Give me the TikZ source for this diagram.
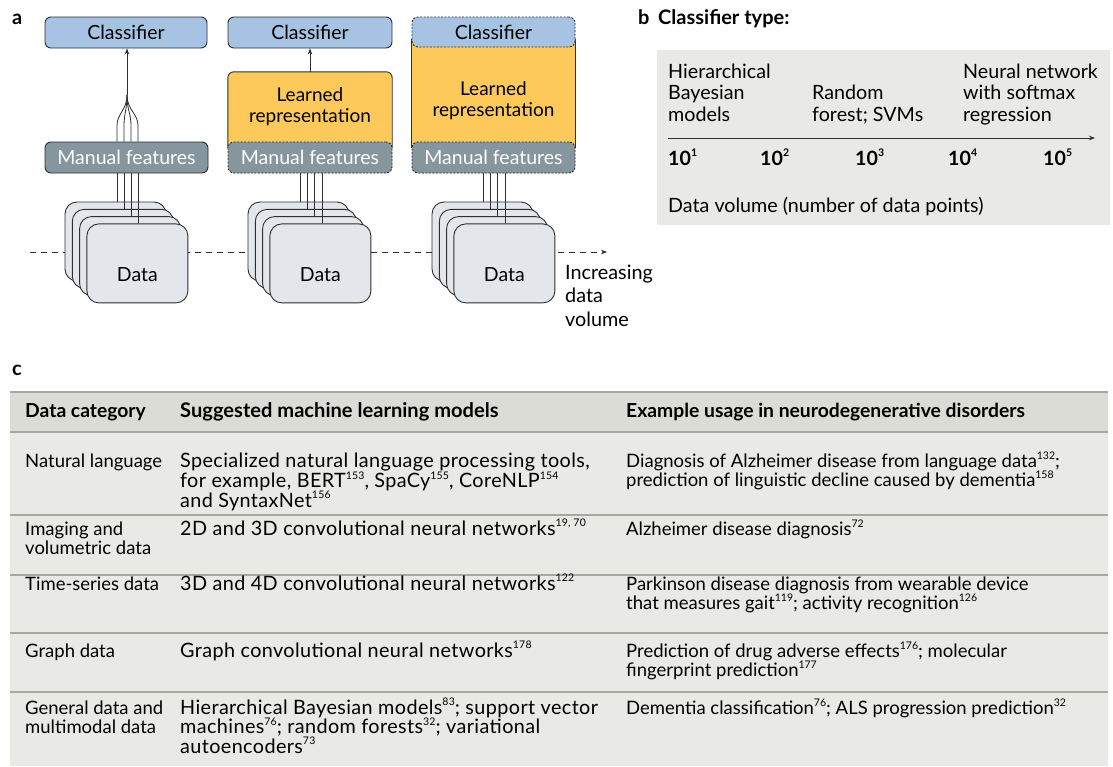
\documentclass[tikz,border=0pt]{standalone}
\usepackage{fontspec}
\setmainfont{Lato}
\usetikzlibrary{arrows.meta}
\definecolor{clsblue}{HTML}{A7C3E3}
\definecolor{mfgray}{HTML}{86969F}
\definecolor{lryellow}{HTML}{FDC95B}
\definecolor{datafill}{HTML}{E3E7EB}
\definecolor{panelgray}{HTML}{E9E9E5}
\definecolor{headgray}{HTML}{DCDCD6}
\definecolor{rulegray}{HTML}{A8A8A2}
\definecolor{edge}{HTML}{2E2E2E}
\newcommand\sps[1]{\raisebox{0.42em}{\fontsize{10.5}{10.5}\selectfont #1}}
\newcommand\fl{\rule{0pt}{16pt}}
\newcommand\tabfont{\fontsize{18.5}{19.5}\selectfont}
\newcommand\tabfontb{\fontsize{19.8}{19.5}\selectfont\addfontfeature{LetterSpace=2}}
\newcommand\boxfont{\fontsize{19.5}{21}\selectfont}
\newcommand\lrfont{\fontsize{19}{21}\selectfont}
\newcommand\pbfont{\fontsize{19.7}{21.5}\selectfont}
\begin{document}
\begin{tikzpicture}[x=1pt,y=-1pt,
  box/.style={draw=edge, line width=0.9pt, rounded corners=6pt, inner sep=0pt, font=\boxfont},
  clsbox/.style={box, fill=clsblue, text=black},
  mfbox/.style={box, fill=mfgray, text=white},
  dotbox/.style={dash pattern=on 2pt off 1.5pt},
  card/.style={draw=edge, line width=0.9pt, rounded corners=12pt, fill=datafill, minimum width=101pt, minimum height=79pt, inner sep=0pt},
  link/.style={draw=edge, line width=0.8pt},
  arr/.style={link, -{Stealth[length=6pt,width=4.5pt]}},
  lbl/.style={anchor=base west, inner sep=0pt, font=\fontsize{20}{22}\selectfont\bfseries},
  cell/.style={anchor=north west, inner sep=0pt, align=left, font=\tabfont},
  cellb/.style={cell, font=\tabfontb},
  pbtext/.style={anchor=north west, inner sep=0pt, align=left, font=\pbfont},
  rule/.style={draw=rulegray, line width=1.2pt}
]
\fill[white] (0,0) rectangle (1113,766);
\useasboundingbox (0,0) rectangle (1113,766);

% ---------- panel a ----------
\node[lbl] (la) at (12,24) {a};
\coordinate (axs) at (30,252);
\coordinate (axe) at (607,252);
\draw[link, dash pattern=on 6pt off 5pt, -{Stealth[length=6pt,width=4.5pt]}] (axs) -- (axe);

\foreach \s/\L in {1/65,2/248,3/432}{
  \foreach \i in {0,...,3}{
    \node[card] (c\s\i) at ({\L+50.5+7.3*\i},{241.5+7.3*\i}) {};
  }
  \node[font=\boxfont, inner sep=0pt] (d\s) at ([yshift=-11pt]c\s3.center) {Data};
}

% stack 1
\node[clsbox, minimum width=162pt, minimum height=31pt] (cls1) at (126,32.5) {Classifier};
\node[mfbox, minimum width=163pt, minimum height=31pt] (mf1) at (126.5,157.5) {Manual features};
\coordinate (m1) at (127,95);
\foreach \i in {0,...,3}{
  \coordinate (p1\i) at ({117+7*\i},0);
  \draw[link] (mf1.south -| p1\i) -- (c1\i.north -| p1\i);
  \draw[link] (mf1.north -| p1\i) -- ++(0,-16) .. controls +(0,-12) and (127,110) .. (m1);
}
\draw[arr] (m1) -- (cls1.south -| m1);

% stack 2
\node[fill=lryellow, rounded corners=6pt, minimum width=164pt, minimum height=101pt, inner sep=0pt] (lr2) at (310,122.5) {};
\draw[link, line width=0.9pt, rounded corners=6pt] ([yshift=25pt]lr2.south west) |- (lr2.north) -| ([yshift=25pt]lr2.south east);
\node[font=\lrfont, align=center, inner sep=0pt] (lt2) at (310,107) {Learned\\representation};
\node[mfbox, dotbox, minimum width=164pt, minimum height=31pt] (mf2) at (310,157.5) {Manual features};
\node[clsbox, minimum width=164pt, minimum height=31pt] (cls2) at (310,32.5) {Classifier};
\draw[arr] (lr2.north) -- (cls2.south);
\foreach \i in {0,...,3}{
  \coordinate (p2\i) at ({300+7.3*\i},0);
  \draw[link] (mf2.south -| p2\i) -- (c2\i.north -| p2\i);
}

% stack 3
\node[fill=lryellow, rounded corners=6pt, minimum width=163pt, minimum height=156pt, inner sep=0pt] (lr3) at (493.5,95) {};
\draw[link, line width=0.9pt] ([yshift=-22pt]lr3.north west) -- ([yshift=25pt]lr3.south west);
\draw[link, line width=0.9pt] ([yshift=-22pt]lr3.north east) -- ([yshift=25pt]lr3.south east);
\node[clsbox, dotbox, minimum width=163pt, minimum height=30pt] (cls3) at (493.5,32) {Classifier};
\node[font=\lrfont, align=center, inner sep=0pt] (lt3) at (493.5,101) {Learned\\representation};
\node[mfbox, dotbox, minimum width=163pt, minimum height=31pt] (mf3) at (493.5,157.5) {Manual features};
\foreach \i in {0,...,3}{
  \coordinate (p3\i) at ({483+7.3*\i},0);
  \draw[link] (mf3.south -| p3\i) -- (c3\i.north -| p3\i);
}
\node[anchor=north west, inner sep=0pt, align=left, font=\fontsize{19.8}{23.5}\selectfont] (inc) at (565,263) {\fl Increasing\\data\\volume};

% ---------- panel b ----------
\node[lbl] (lb) at (638,24) {b};
\node[lbl] (ctype) at (658,24) {Classifier type:};
\node[fill=panelgray, anchor=north west, minimum width=453pt, minimum height=175pt, inner sep=0pt] (pb) at (657,50) {};
\node[pbtext] (hb) at (668,62) {\fl Hierarchical\\Bayesian\\models};
\node[pbtext] (rf) at (812,83.5) {\fl Random\\forest; SVMs};
\node[pbtext] (nn) at (963,62) {\fl Neural network\\with softmax\\regression};
\coordinate (ba1) at (668,138);
\coordinate (ba2) at (1095,138);
\draw[arr] (ba1) -- (ba2);
\foreach \x/\e in {668/1,760/2,855/3,948/4,1043/5}{
  \node[anchor=base west, inner sep=0pt, font=\pbfont\bfseries] (t\e) at (\x,165) {10\sps{\e}};
}
\node[anchor=base west, inner sep=0pt, font=\pbfont] (dv) at (668,212) {Data volume (number of data points)};

% ---------- panel c ----------
\node[lbl] (lc) at (12,375) {c};
\node[fill=headgray, anchor=north west, minimum width=1098pt, minimum height=40pt, inner sep=0pt] (thd) at (10,392) {};
\node[fill=panelgray, anchor=north west, minimum width=1098pt, minimum height=334pt, inner sep=0pt] (tbd) at (10,432) {};
\foreach \y in {392,432,515,575,633,692}{
  \coordinate (rl\y) at (10,\y);
  \coordinate (rr\y) at (1108,\y);
  \draw[rule] (rl\y) -- (rr\y);
}
% header
\node[cell, font=\fontsize{19.3}{19.5}\selectfont\bfseries] (h1) at (25,401) {\fl Data category};
\node[cell, font=\fontsize{20.1}{19.5}\selectfont\bfseries] (h2) at (180,401) {\fl Suggested machine learning models};
\node[cell, font=\fontsize{19.3}{19.5}\selectfont\bfseries] (h3) at (626,401) {\fl Example usage in neurodegenerative disorders};
% row 1
\node[cell] (a1) at (25,451) {\fl Natural language};
\node[cellb] (b1) at (180,451) {\fl Specialized natural language processing tools,\\for example, BERT\sps{153}, SpaCy\sps{155}, CoreNLP\sps{154}\\and SyntaxNet\sps{156}};
\node[cell] (e1) at (626,451) {\fl Diagnosis of Alzheimer disease from language data\sps{132};\\prediction of linguistic decline caused by dementia\sps{158}};
% row 2
\node[cell] (a2) at (25,519) {\fl Imaging and\\volumetric data};
\node[cellb] (b2) at (180,519) {\fl 2D and 3D convolutional neural networks\sps{19, 70}};
\node[cell] (e2) at (626,519) {\fl Alzheimer disease diagnosis\sps{72}};
% row 3
\node[cell] (a3) at (25,574) {\fl Time-series data};
\node[cellb] (b3) at (180,574) {\fl 3D and 4D convolutional neural networks\sps{122}};
\node[cell] (e3) at (626,574) {\fl Parkinson disease diagnosis from wearable device\\that measures gait\sps{119}; activity recognition\sps{126}};
% row 4
\node[cell] (a4) at (25,641) {\fl Graph data};
\node[cellb] (b4) at (180,641) {\fl Graph convolutional neural networks\sps{178}};
\node[cell] (e4) at (626,641) {\fl Prediction of drug adverse effects\sps{176}; molecular\\fingerprint prediction\sps{177}};
% row 5
\node[cell] (a5) at (25,698) {\fl General data and\\multimodal data};
\node[cellb] (b5) at (180,698) {\fl Hierarchical Bayesian models\sps{83}; support vector\\machines\sps{76}; random forests\sps{32}; variational\\autoencoders\sps{73}};
\node[cell] (e5) at (626,698) {\fl Dementia classification\sps{76}; ALS progression prediction\sps{32}};
\end{tikzpicture}
\end{document}
